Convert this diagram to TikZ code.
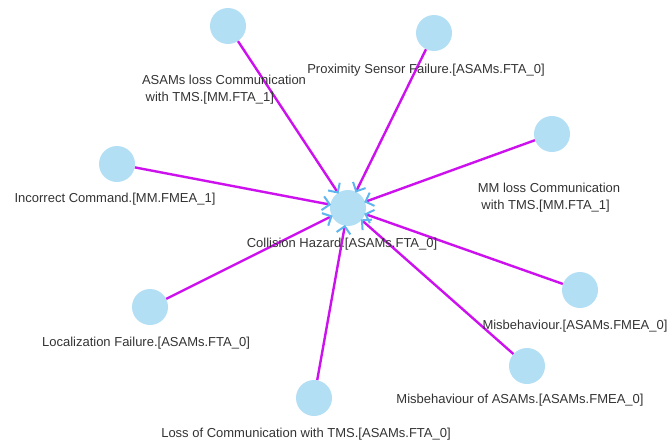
\documentclass[tikz,border=0pt]{standalone}
\usepackage{fontspec}
\setmainfont{Liberation Sans}
\usetikzlibrary{arrows.meta}
\definecolor{nodeblue}{HTML}{B3DFF5}
\definecolor{tipblue}{HTML}{5DB4EE}
\definecolor{edgecol}{HTML}{CC11EE}
\tikzset{
  ev/.style={circle,fill=nodeblue,minimum size=36pt,inner sep=0pt},
  lab/.style={font=\fontsize{13}{17}\selectfont,text=black!80,align=left,inner sep=0pt},
  link/.style={draw=edgecol,line width=2.4pt,-{Straight Barb[length=7pt,width=14pt,line width=2pt,color=tipblue]},shorten >=-1pt}
}
\begin{document}
\begin{tikzpicture}[x=1pt,y=-1pt]
\useasboundingbox (0,0) rectangle (668,442);
\node[ev] (c) at (348,208) {};
\node[ev] (a1) at (228,26) {};
\node[ev] (a2) at (434,33) {};
\node[ev] (a3) at (552,134) {};
\node[ev] (a4) at (117,164) {};
\node[ev] (a5) at (580,290) {};
\node[ev] (a6) at (150,307) {};
\node[ev] (a7) at (527,366) {};
\node[ev] (a8) at (314,398) {};
\foreach \n in {a1,a2,a3,a4,a5,a6,a7,a8} \draw[link] (\n) -- (c);
\node[lab] (l1) at (224,90) {ASAMs loss Communication\\\ with TMS.[MM.FTA\_1]};
\node[lab] (l2) at (426,70) {Proximity Sensor Failure.[ASAMs.FTA\_0]};
\node[lab] (l3) at (549,198) {MM loss Communication\\\ with TMS.[MM.FTA\_1]};
\node[lab] (l4) at (115,199) {Incorrect Command.[MM.FMEA\_1]};
\node[lab] (lc) at (342,244) {Collision Hazard.[ASAMs.FTA\_0]};
\node[lab] (l5) at (575,326) {Misbehaviour.[ASAMs.FMEA\_0]};
\node[lab] (l6) at (146,343) {Localization Failure.[ASAMs.FTA\_0]};
\node[lab] (l7) at (520,400) {Misbehaviour of ASAMs.[ASAMs.FMEA\_0]};
\node[lab] (l8) at (306,434) {Loss of Communication with TMS.[ASAMs.FTA\_0]};
\end{tikzpicture}
\end{document}
